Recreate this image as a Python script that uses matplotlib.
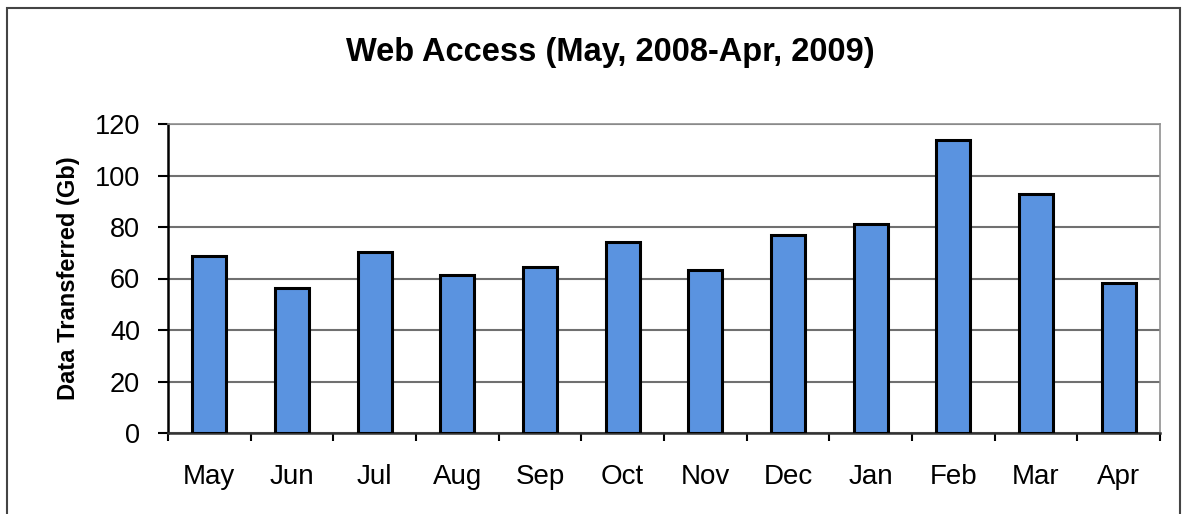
import matplotlib
matplotlib.use("Agg")
import matplotlib.pyplot as plt
from matplotlib.patches import Rectangle
import numpy as np

plt.rcParams['font.family'] = ['Liberation Sans', 'DejaVu Sans']

months = ["May", "Jun", "Jul", "Aug", "Sep", "Oct", "Nov", "Dec", "Jan", "Feb", "Mar", "Apr"]
data_gb = [68.9, 56.5, 70.1, 61.2, 64.4, 74.0, 63.3, 76.9, 81.1, 113.9, 92.8, 58.2]
yticks = [0, 20, 40, 60, 80, 100, 120]

fig = plt.figure(figsize=(11.85, 5.14), dpi=100)
ax = fig.add_axes([168/1185, 81/514, 992/1185, 309/514])

x = np.arange(len(months))
ax.bar(x, data_gb, width=0.41, color="#5a93e0", edgecolor="black", linewidth=2.2, zorder=3)

ax.set_xlim(-0.5, len(months) - 0.5)
ax.set_ylim(0, 120)
ax.set_yticks(yticks)
ax.set_xticks(x)
ax.set_xticklabels(months, fontsize=20)
ax.tick_params(axis="x", length=0, pad=22)
ax.set_xticks(np.arange(len(months) + 1) - 0.5, minor=True)
ax.tick_params(axis="x", which="minor", length=6, width=1.5, direction="out")
ax.tick_params(axis="y", labelsize=19.5, length=7, width=1.5, pad=13)
ax.yaxis.grid(True, color="#707070", linewidth=1.5, zorder=0)

for s in ["top", "right"]:
    ax.spines[s].set_color("#909090")
    ax.spines[s].set_linewidth(1.2)
ax.spines["left"].set_linewidth(1.8)
ax.spines["bottom"].set_linewidth(1.8)
ax.spines["bottom"].set_color("#333333")

ax.set_ylabel("Data Transferred (Gb)", fontsize=17, fontweight="bold")
ax.yaxis.set_label_coords(-88/992, 0.5)
fig.text(610/1185, 1 - 53/514, "Web Access (May, 2008-Apr, 2009)",
         ha="center", va="center", fontsize=23.5, fontweight="bold")

fig.add_artist(Rectangle((7/1185, -0.1), 1173/1185, 1.1 - 8/514, transform=fig.transFigure,
                         fill=False, edgecolor="#444444", linewidth=1.5))

fig.savefig("out.png", dpi=100)
